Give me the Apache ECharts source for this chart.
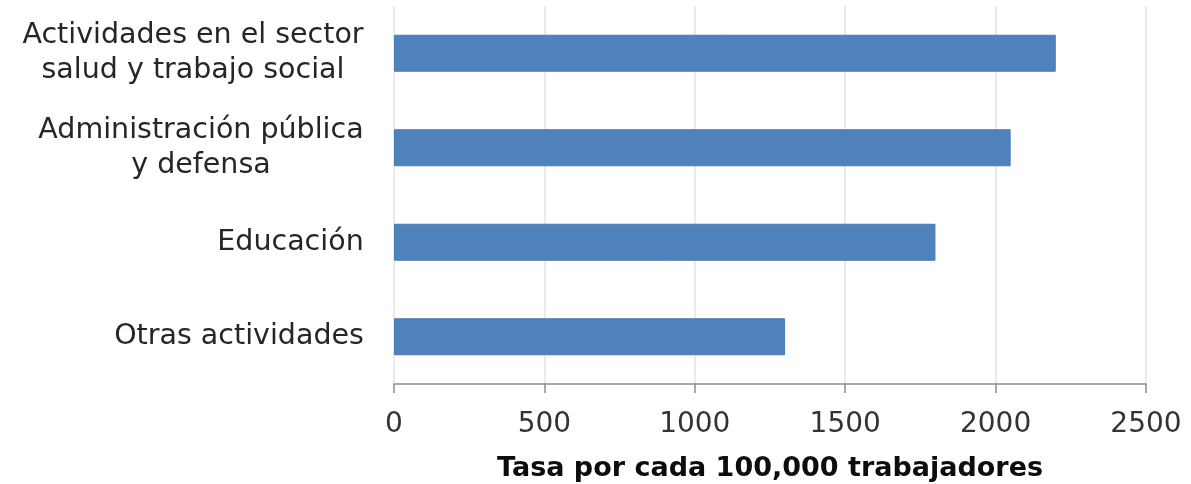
<!DOCTYPE html>
<html>
<head>
<meta charset="utf-8">
<script src="https://cdn.jsdelivr.net/npm/echarts@6/dist/echarts.min.js"></script>
<style>
  html, body { margin: 0; padding: 0; background: #fff; }
  #main { width: 1191px; height: 484px; }
</style>
</head>
<body>
<div id="main"></div>
<script>
// datos (de abajo hacia arriba, como en el eje de categorías)
var categorias = [
    'Otras actividades',
    'Educación',
    'Administración pública\ny defensa',
    'Actividades en el sector\nsalud y trabajo social'
];
var tasas = [1300, 1800, 2050, 2200];
var ejeX = { min: 0, max: 2500, interval: 500 };
var nombreEje = 'Tasa por cada 100,000 trabajadores';

var fuente = '"DejaVu Sans", Verdana, sans-serif';
var tamLabel = 28.5;

// ancho del bloque de texto para centrar cada línea dentro del bloque
function anchoTexto(txt){
    var c = document.createElement('canvas').getContext('2d');
    c.font = tamLabel + 'px ' + fuente;
    return Math.max.apply(null, txt.split('\n').map(function(l){ return c.measureText(l).width; }));
}

var rich = {};
categorias.forEach(function(cat, i){
    rich['c' + i] = {
        width: Math.ceil(anchoTexto(cat)) + 2,
        align: 'center',
        fontSize: tamLabel,
        lineHeight: 35,
        fontFamily: fuente,
        color: '#262626'
    };
});

var myChart = echarts.init(document.getElementById('main'));

myChart.setOption({
    animation: false,
    grid: { left: 394, right: 45, top: 6, bottom: 100, containLabel: false, outerBoundsMode: 'none' },
    xAxis: {
        type: 'value',
        min: ejeX.min,
        max: ejeX.max,
        interval: ejeX.interval,
        name: nombreEje,
        nameLocation: 'middle',
        nameGap: 71,
        nameTextStyle: { fontFamily: fuente, fontWeight: 'bold', fontSize: 27, color: '#0d0d0d' },
        axisLine: { show: true, lineStyle: { color: '#8c8c8c', width: 1.5 } },
        axisTick: { show: true, length: 9, lineStyle: { color: '#8c8c8c', width: 1.5 } },
        axisLabel: {
            fontFamily: fuente, fontSize: 28, color: '#333', margin: 27,
            formatter: function(v){ return String(v); }
        },
        splitLine: { show: true, lineStyle: { color: '#e3e3e3', width: 1.5 } }
    },
    yAxis: {
        type: 'category',
        data: categorias,
        axisLine: { show: false },
        axisTick: { show: false },
        axisLabel: {
            margin: 29,
            formatter: function(v, i){
                return v.split('\n').map(function(l){ return '{c' + i + '|' + l + '}'; }).join('\n');
            },
            rich: rich
        }
    },
    series: [{
        type: 'bar',
        data: tasas,
        barWidth: 37,
        itemStyle: { color: '#4f81bd', borderColor: '#4a7ab5', borderWidth: 1 }
    }]
});
</script>
</body>
</html>
